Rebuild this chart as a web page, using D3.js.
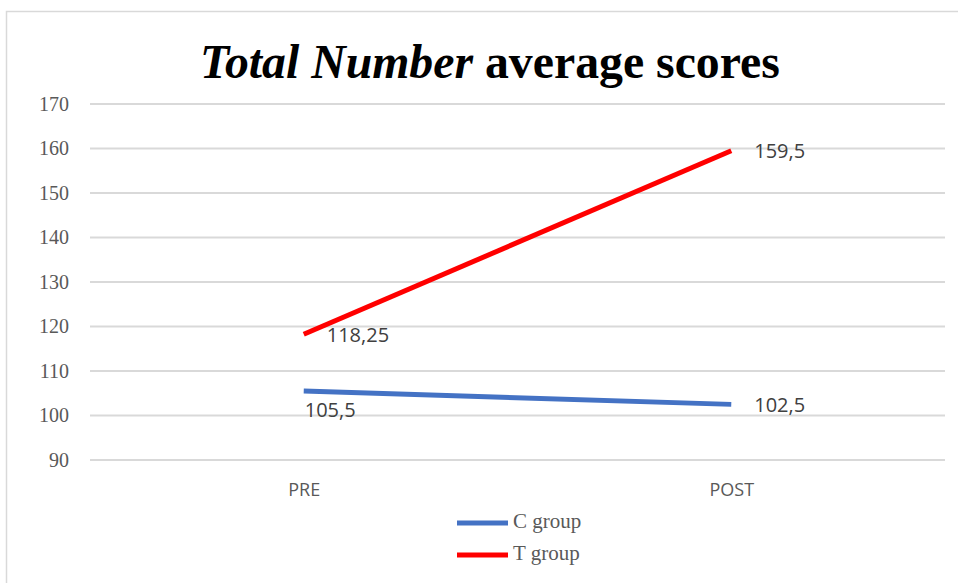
<!DOCTYPE html>
<html>
<head>
<meta charset="utf-8">
<script src="https://cdn.jsdelivr.net/npm/d3@7"></script>
<style>
  body { margin: 0; background: #fff; }
  svg { display: block; }
</style>
</head>
<body>
<script>
// chart values
var categories = ['PRE', 'POST'];
var seriesNames = ['C group', 'T group'];
var cValues = [105.5, 102.5];
var tValues = [118.25, 159.5];
var yTicks = [90, 100, 110, 120, 130, 140, 150, 160, 170];

var width = 958, height = 583;
var colors = { 'C group': '#4472c4', 'T group': '#ff0000' };

var series = [
  { name: 'C group', values: cValues, labelPos: ['below', 'right'] },
  { name: 'T group', values: tValues, labelPos: ['right', 'right'] }
];

var svg = d3.select('body').append('svg')
  .attr('width', width)
  .attr('height', height);

// outer frame
svg.append('rect')
  .attr('x', 6.5).attr('y', 11.5)
  .attr('width', 960).attr('height', 580)
  .attr('fill', '#fff')
  .attr('stroke', '#d9d9d9')
  .attr('stroke-width', 1.5);

var plot = { left: 90, right: 945, top: 104, bottom: 460 };

var x = d3.scalePoint()
  .domain(categories)
  .range([plot.left, plot.right])
  .padding(0.5);

var y = d3.scaleLinear()
  .domain([90, 170])
  .range([plot.bottom, plot.top]);

// gridlines
svg.append('g')
  .selectAll('line')
  .data(yTicks)
  .enter()
  .append('line')
  .attr('x1', plot.left).attr('x2', plot.right)
  .attr('y1', function(d) { return y(d); })
  .attr('y2', function(d) { return y(d); })
  .attr('stroke', '#d9d9d9')
  .attr('stroke-width', 2);

// y axis labels
var yAxis = d3.axisLeft(y).tickValues(yTicks).tickSize(0).tickPadding(21);
var gy = svg.append('g')
  .attr('transform', 'translate(' + plot.left + ',0)')
  .call(yAxis);
gy.select('.domain').remove();
gy.selectAll('text')
  .attr('font-family', '"Liberation Serif", "DejaVu Serif", serif')
  .attr('font-size', 20)
  .attr('fill', '#595959');

// x axis labels
var xAxis = d3.axisBottom(x).tickSize(0).tickPadding(23);
var gx = svg.append('g')
  .attr('transform', 'translate(0,' + plot.bottom + ')')
  .call(xAxis);
gx.select('.domain').remove();
gx.selectAll('text')
  .attr('font-family', '"Open Sans", "Liberation Sans", sans-serif')
  .attr('font-size', 18)
  .attr('fill', '#595959');

// lines
var line = d3.line()
  .x(function(d, i) { return x(categories[i]); })
  .y(function(d) { return y(d); });

svg.append('g')
  .selectAll('path')
  .data(series)
  .enter()
  .append('path')
  .attr('d', function(s) { return line(s.values); })
  .attr('fill', 'none')
  .attr('stroke', function(s) { return colors[s.name]; })
  .attr('stroke-width', 5)
  .attr('stroke-linecap', 'butt');

// data labels
var labels = [];
series.forEach(function(s) {
  s.values.forEach(function(v, i) {
    labels.push({ value: v, cat: categories[i], pos: s.labelPos[i] });
  });
});

svg.append('g')
  .selectAll('text')
  .data(labels)
  .enter()
  .append('text')
  .attr('x', function(d) { return x(d.cat) + (d.pos === 'right' ? 23 : 1); })
  .attr('y', function(d) { return y(d.value) + (d.pos === 'right' ? 2 : 21); })
  .attr('dominant-baseline', 'middle')
  .attr('font-family', '"Open Sans", "Liberation Sans", sans-serif')
  .attr('font-size', 20)
  .attr('fill', '#404040')
  .text(function(d) { return String(d.value).replace('.', ','); });

// title
var title = svg.append('text')
  .attr('x', 490)
  .attr('y', 78)
  .attr('text-anchor', 'middle')
  .attr('font-family', '"Liberation Serif", "DejaVu Serif", serif')
  .attr('font-weight', 'bold')
  .attr('font-size', 44)
  .attr('fill', '#000');
title.append('tspan').attr('font-style', 'italic').text('Total Number');
title.append('tspan').text(' average scores');
var tw = title.node().getComputedTextLength();
title.attr('font-size', 44 * 580 / tw);

// legend
var legend = svg.append('g')
  .selectAll('g')
  .data(seriesNames)
  .enter()
  .append('g')
  .attr('transform', function(d, i) { return 'translate(457,' + (523 + i * 32) + ')'; });

legend.append('line')
  .attr('x1', 0).attr('x2', 51)
  .attr('stroke', function(d) { return colors[d]; })
  .attr('stroke-width', 5);

legend.append('text')
  .attr('x', 56)
  .attr('dominant-baseline', 'middle')
  .attr('font-family', '"Liberation Serif", "DejaVu Serif", serif')
  .attr('font-size', 21)
  .attr('fill', '#595959')
  .text(function(d) { return d; });
</script>
</body>
</html>
